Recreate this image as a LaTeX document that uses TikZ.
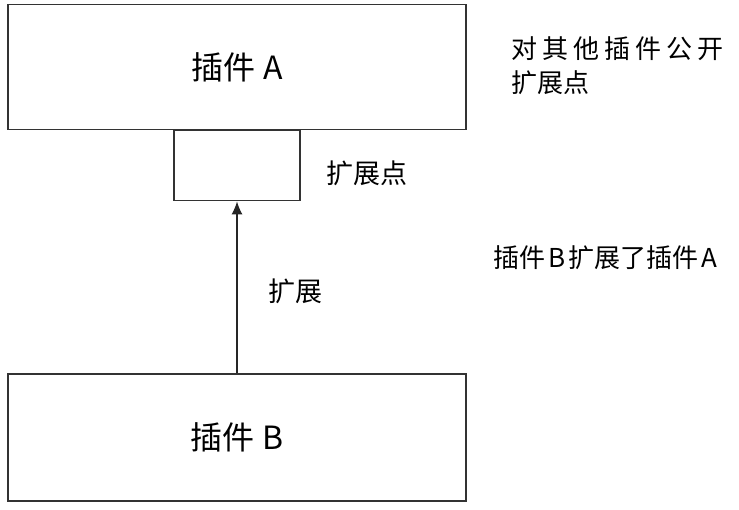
\documentclass[tikz,border=0pt]{standalone}
\usepackage{fontspec}
\setmainfont{Noto Sans CJK SC}
\usetikzlibrary{arrows.meta,positioning}
\tikzset{plugin/.style={draw=black!80,line width=1.3pt,minimum width=458pt,minimum height=125pt,inner sep=0pt,font=\fontsize{32}{36}\selectfont},expt/.style={draw=black!80,line width=1.3pt,minimum width=126pt,minimum height=70pt,inner sep=0pt},note/.style={font=\fontsize{26}{34}\selectfont,align=left,inner sep=0pt,anchor=west},edge/.style={-{Latex[length=13pt,width=11pt]},line width=1.2pt,draw=black!85}}

\begin{document}
\begin{tikzpicture}[x=1pt,y=-1pt]
\useasboundingbox[fill=white](0,0) rectangle (739,510);
\node[plugin] (a) at(237,67){插件\hspace{8pt}A};
\node[expt,below=0pt of a] (e){};
\node[plugin,minimum height=127pt] (b) at(237,437.5){插件\hspace{8pt}B};
\draw[edge](b.north)--(e.south);
\node[note] (na) at(511,66){对\hspace{5pt}其\hspace{5pt}他\hspace{5pt}插\hspace{5pt}件\hspace{5pt}公\hspace{5pt}开\\扩展点};
\node[note,font=\fontsize{27}{30}\selectfont] (ne) at(326,173){扩展点};
\node[note] (nb) at(493,258){插件\hspace{3pt}B\hspace{3pt}扩展了插件\hspace{3pt}A};
\node[note,font=\fontsize{27}{30}\selectfont] (nx) at(268,291){扩展};
\end{tikzpicture}
\end{document}
